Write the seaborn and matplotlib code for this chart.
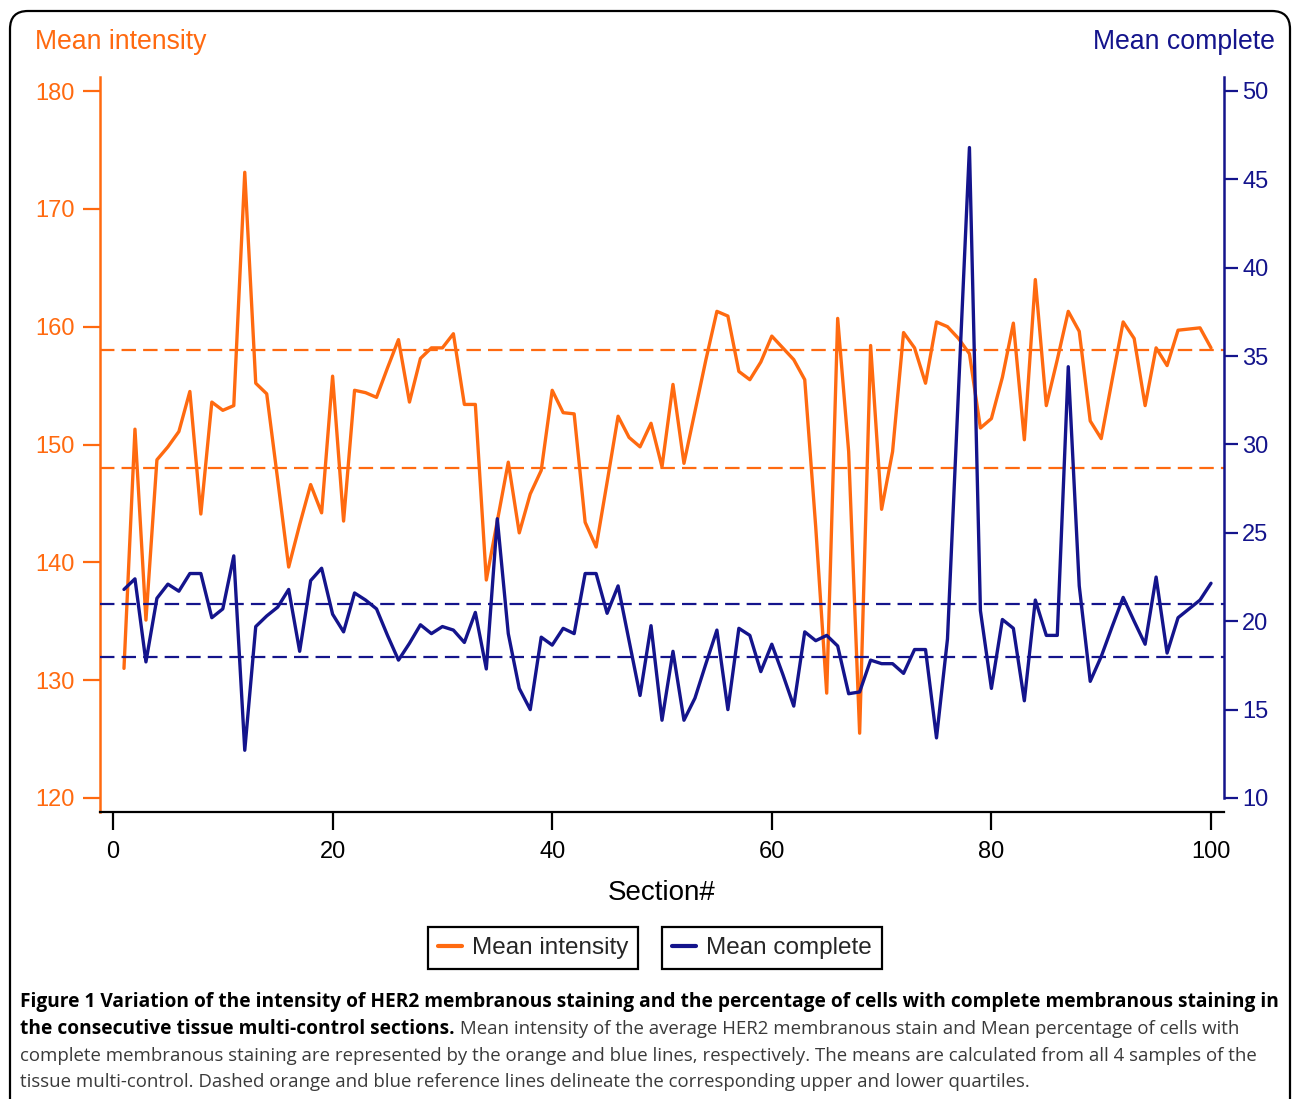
import numpy as np
import pandas as pd
import matplotlib
matplotlib.use("Agg")
import matplotlib.pyplot as plt
from matplotlib.patches import FancyBboxPatch
from matplotlib.transforms import IdentityTransform
from matplotlib.lines import Line2D
import seaborn as sns

# Data
section = list(range(1, 101))

mean_intensity = [
    131.0, 151.3, 135.1, 148.7, 149.8, 151.1, 154.5, 144.1, 153.6, 152.9,
    153.3, 173.1, 155.2, 154.3, 147.0, 139.6, 143.2, 146.6, 144.2, 155.8,
    143.5, 154.6, 154.4, 154.0, 156.5, 158.9, 153.6, 157.3, 158.2, 158.2,
    159.4, 153.4, 153.4, 138.5, 143.5, 148.5, 142.5, 145.8, 147.8, 154.6,
    152.7, 152.6, 143.4, 141.3, 146.8, 152.4, 150.6, 149.8, 151.8, 148.1,
    155.1, 148.4, 152.8, 157.2, 161.3, 160.9, 156.2, 155.5, 157.0, 159.2,
    158.2, 157.2, 155.5, 143.0, 128.9, 160.7, 149.4, 125.5, 158.4, 144.5,
    149.4, 159.5, 158.2, 155.2, 160.4, 160.0, 159.0, 157.7, 151.4, 152.2,
    155.7, 160.3, 150.4, 164.0, 153.3, 157.2, 161.3, 159.6, 152.0, 150.5,
    155.5, 160.4, 159.0, 153.3, 158.2, 156.7, 159.7, 159.8, 159.9, 158.2,
]

mean_complete = [
    21.8, 22.4, 17.7, 21.3, 22.1, 21.7, 22.7, 22.7, 20.2, 20.7,
    23.7, 12.7, 19.7, 20.3, 20.8, 21.8, 18.3, 22.3, 23.0, 20.4,
    19.4, 21.6, 21.2, 20.7, 19.2, 17.8, 18.75, 19.8, 19.3, 19.7,
    19.5, 18.8, 20.5, 17.3, 25.8, 19.3, 16.2, 15.0, 19.1, 18.65,
    19.6, 19.3, 22.7, 22.7, 20.45, 22.0, 18.9, 15.8, 19.75, 14.4,
    18.3, 14.4, 15.65, 17.6, 19.5, 15.0, 19.6, 19.2, 17.15, 18.7,
    17.0, 15.2, 19.4, 18.9, 19.2, 18.6, 15.9, 16.0, 17.8, 17.6,
    17.6, 17.05, 18.4, 18.4, 13.4, 19.0, 33.0, 46.8, 20.6, 16.2,
    20.1, 19.6, 15.5, 21.2, 19.2, 19.2, 34.4, 22.0, 16.6, 18.0,
    19.7, 21.35, 20.0, 18.7, 22.5, 18.2, 20.2, 20.7, 21.2, 22.15,
]

# upper / lower quartile reference lines
intensity_quartiles = [158.0, 148.0]
complete_quartiles = [21.0, 18.0]

x_ticks = [0, 20, 40, 60, 80, 100]
left_ticks = [120, 130, 140, 150, 160, 170, 180]
right_ticks = [10, 15, 20, 25, 30, 35, 40, 45, 50]

caption_bold_1 = ("Figure 1 Variation of the intensity of HER2 membranous staining and "
                  "the percentage of cells with complete membranous staining in")
caption_bold_2 = "the consecutive tissue multi-control sections."
caption_rest_2 = (" Mean intensity of the average HER2 membranous stain and Mean "
                  "percentage of cells with")
caption_line_3 = ("complete membranous staining are represented by the orange and blue "
                  "lines, respectively. The means are calculated from all 4 samples of the")
caption_line_4 = ("tissue multi-control. Dashed orange and blue reference lines delineate "
                  "the corresponding upper and lower quartiles.")

ORANGE = "#FF6A10"
NAVY = "#14148C"

df = pd.DataFrame({"Section#": section,
                   "Mean intensity": mean_intensity,
                   "Mean complete": mean_complete})

sns.set_theme(style="white")
plt.rcParams["font.family"] = ["Liberation Sans", "DejaVu Sans"]

W, H = 1293, 1099
fig = plt.figure(figsize=(W / 100, H / 100), dpi=100)
ax = fig.add_axes([100 / W, 1 - 812 / H, 1124 / W, 735 / H])
ax2 = ax.twinx()

sns.lineplot(data=df, x="Section#", y="Mean intensity", ax=ax, color=ORANGE, lw=2.4)
sns.lineplot(data=df, x="Section#", y="Mean complete", ax=ax2, color=NAVY, lw=2.4)

for q in intensity_quartiles:
    ax.axhline(q, color=ORANGE, lw=1.6, ls=(0, (6.5, 3.2)))
for q in complete_quartiles:
    ax2.axhline(q, color=NAVY, lw=1.6, ls=(0, (6.5, 3.2)))

ax.set_xlim(-13 / 10.98, 100 + 13 / 10.98)
ax.set_ylim(120 - 14 / 11.78, 180 + 14 / 11.78)
ax2.set_ylim(10 - 14 / 17.675, 50 + 14 / 17.675)

ax.set_xticks(x_ticks)
ax.set_yticks(left_ticks)
ax2.set_yticks(right_ticks)

ax.tick_params(axis="x", length=13, width=1.6, color="black", labelsize=17,
               labelcolor="black", pad=8, bottom=True)
ax.tick_params(axis="y", length=12, width=1.6, color=ORANGE, labelsize=17,
               labelcolor=ORANGE, pad=6, left=True)
ax2.tick_params(axis="y", length=10, width=1.6, color=NAVY, labelsize=17,
                labelcolor=NAVY, pad=3, right=True)

for s in ["top", "right"]:
    ax.spines[s].set_visible(False)
ax.spines["left"].set_color(ORANGE)
ax.spines["left"].set_linewidth(1.8)
ax.spines["bottom"].set_color("black")
ax.spines["bottom"].set_linewidth(1.6)
for s in ["top", "left", "bottom"]:
    ax2.spines[s].set_visible(False)
ax2.spines["right"].set_color(NAVY)
ax2.spines["right"].set_linewidth(1.8)
ax2.spines["right"].set_bounds(10, 50 + 14 / 17.675)

ax.set_ylabel("")
ax2.set_ylabel("")
ax.set_xlabel("Section#", fontsize=20, color="black")
ax.xaxis.label.set_va("center")
ax.xaxis.set_label_coords((662 - 100) / 1124, (812 - 893) / 735)

fig.text(35 / W, 1 - 42 / H, "Mean intensity", color=ORANGE, fontsize=19.2,
         ha="left", va="center")
fig.text(1275 / W, 1 - 42 / H, "Mean complete", color=NAVY, fontsize=19.2,
         ha="right", va="center")

# two separate legend boxes
leg_kw = dict(loc="center", bbox_transform=fig.transFigure, frameon=True,
              fancybox=False, edgecolor="black", fontsize=17.5, handlelength=1.0,
              handletextpad=0.4, borderpad=0.4, framealpha=1)
leg1 = ax.legend(handles=[Line2D([], [], color=ORANGE, lw=3)], labels=["Mean intensity"],
                 bbox_to_anchor=(533 / W, 1 - 948 / H), **leg_kw)
leg1.get_frame().set_linewidth(1.6)
ax.add_artist(leg1)
leg2 = ax.legend(handles=[Line2D([], [], color=NAVY, lw=3)], labels=["Mean complete"],
                 bbox_to_anchor=(772 / W, 1 - 948 / H), **leg_kw)
leg2.get_frame().set_linewidth(1.6)

# caption
cap_font = ["Open Sans", "DejaVu Sans"]
bold_size = 13.75
reg_size = 13.45
cap_grey = "#3a3a3a"
fig.text(20 / W, 1 - 1002 / H, caption_bold_1, family=cap_font, fontsize=bold_size,
         weight="bold", color="black", va="center")
t_bold = fig.text(20 / W, 1 - 1029 / H, caption_bold_2, family=cap_font, fontsize=bold_size,
                  weight="bold", color="black", va="center")
ax.annotate(caption_rest_2, xy=(1, 0.5), xycoords=t_bold, va="center", ha="left",
            family=cap_font, fontsize=reg_size, color=cap_grey, annotation_clip=False)
fig.text(20 / W, 1 - 1056 / H, caption_line_3, family=cap_font, fontsize=reg_size,
         color=cap_grey, va="center")
fig.text(20 / W, 1 - 1082 / H, caption_line_4, family=cap_font, fontsize=reg_size,
         color=cap_grey, va="center")

# rounded frame around the whole figure
frame = FancyBboxPatch((10, -30), 1280, H - 11 + 30,
                       boxstyle="round,pad=0,rounding_size=18",
                       transform=IdentityTransform(), fill=False,
                       edgecolor="black", lw=1.6)
fig.patches.append(frame)

fig.savefig("out.png", dpi=100)
